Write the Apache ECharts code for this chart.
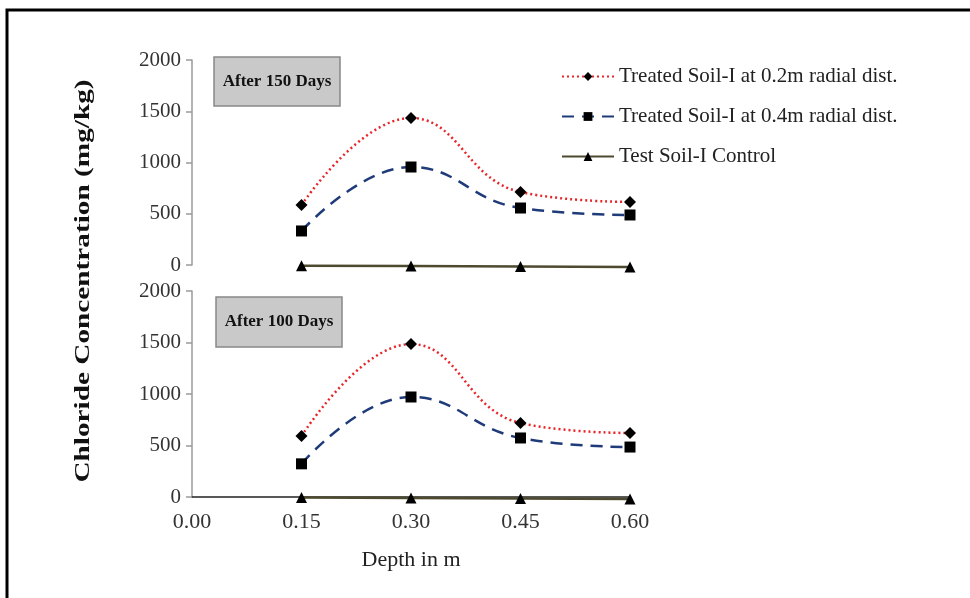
<!DOCTYPE html>
<html>
<head>
<meta charset="utf-8">
<script src="https://cdn.jsdelivr.net/npm/echarts@6/dist/echarts.min.js"></script>
<style>html,body{margin:0;padding:0;background:#fff}#c{width:970px;height:598px}</style>
</head>
<body>
<div id="c"></div>
<script>
var depths = [0.15, 0.30, 0.45, 0.60];
var xTicks = ['0.00', '0.15', '0.30', '0.45', '0.60'];
var yTicks = [0, 500, 1000, 1500, 2000];
var seriesNames = ['Treated Soil-I at 0.2m radial dist.', 'Treated Soil-I at 0.4m radial dist.', 'Test Soil-I Control'];
var panelTitles = ['After 150 Days', 'After 100 Days'];
// After 150 days (top panel)
var d150_02 = [585, 1434, 712, 615];
var d150_04 = [332, 956, 556, 488];
var d150_ctrl = [-8, -10, -15, -20];
// After 100 days (bottom panel)
var d100_02 = [592, 1485, 718, 621];
var d100_04 = [322, 971, 573, 485];
var d100_ctrl = [-5, -10, -15, -20];

function pairs(vals) { return depths.map(function (d, i) { return [d, vals[i]]; }); }

var serif = '"Liberation Serif", "Times New Roman", serif';
var styles = [
  { color: '#e8262a', type: [2, 3], width: 2.5, symbol: 'diamond', size: 12 },
  { color: '#1f3b7a', type: [12, 8], width: 2.5, symbol: 'rect', size: 11 },
  { color: '#4d4a30', type: 'solid', width: 2.5, symbol: 'triangle', size: 11 }
];

function mk(name, vals, k, gi) {
  var s = styles[k];
  return {
    name: name, type: 'line', xAxisIndex: gi, yAxisIndex: gi,
    data: pairs(vals), smooth: k === 2 ? false : 0.45, clip: false,
    symbol: s.symbol, symbolSize: s.size, showSymbol: true,
    lineStyle: { color: s.color, type: s.type, width: s.width },
    itemStyle: { color: '#000', borderWidth: 0 },
    z: 5 - k
  };
}

var yAxisCommon = {
  type: 'value', min: 0, max: 2000, interval: 500,
  axisLine: { show: true, lineStyle: { color: '#9a9a9a', width: 1.5 } },
  axisTick: { show: true, inside: false, length: 6, lineStyle: { color: '#9a9a9a', width: 1.5 } },
  axisLabel: { fontFamily: serif, fontSize: 21, color: '#333', margin: 11,
    formatter: function (v) { return yTicks.indexOf(v) >= 0 ? String(v) : ''; } },
  splitLine: { show: false }
};

var chart = echarts.init(document.getElementById('c'));
chart.setOption({
  backgroundColor: '#fff',
  animation: false,
  grid: [
    { left: 192, right: 340, top: 60, height: 205 },
    { left: 192, right: 340, top: 291, height: 206 }
  ],
  xAxis: [
    { gridIndex: 0, type: 'value', min: 0, max: 0.6, interval: 0.15, show: false },
    { gridIndex: 1, type: 'value', min: 0, max: 0.6, interval: 0.15,
      axisLine: { show: true, onZero: false, lineStyle: { color: '#222', width: 1.5 } },
      axisTick: { show: false },
      splitLine: { show: false },
      axisLabel: { fontFamily: serif, fontSize: 22, color: '#333', margin: 14,
        formatter: function (v) { var i = Math.round(v / 0.15); return xTicks[i] || ''; } },
      name: 'Depth in m', nameLocation: 'middle', nameGap: 52,
      nameTextStyle: { fontFamily: serif, fontSize: 22, color: '#222' }
    }
  ],
  yAxis: [
    Object.assign({ gridIndex: 0 }, yAxisCommon),
    Object.assign({ gridIndex: 1 }, yAxisCommon)
  ],
  legend: {
    orient: 'vertical', left: 556, top: 61, itemGap: 19,
    itemWidth: 52, itemHeight: 11,
    textStyle: { fontFamily: serif, fontSize: 21, color: '#222' },
    data: seriesNames
  },
  series: [
    mk(seriesNames[0], d150_02, 0, 0),
    mk(seriesNames[1], d150_04, 1, 0),
    mk(seriesNames[2], d150_ctrl, 2, 0),
    mk(seriesNames[0], d100_02, 0, 1),
    mk(seriesNames[1], d100_04, 1, 1),
    mk(seriesNames[2], d100_ctrl, 2, 1)
  ],
  graphic: [
    { type: 'polyline', shape: { points: [[7, 600], [7, 10], [975, 10]] },
      style: { stroke: '#000', lineWidth: 3, fill: null } },
    { type: 'rect', shape: { x: 214, y: 57, width: 126, height: 49 },
      style: { fill: '#c9c9c9', stroke: '#888', lineWidth: 1.5 } },
    { type: 'text', x: 277, y: 81.5,
      style: { text: panelTitles[0], font: 'bold 17px ' + serif, fill: '#111', align: 'center', verticalAlign: 'middle' } },
    { type: 'rect', shape: { x: 216, y: 297, width: 126, height: 50 },
      style: { fill: '#c9c9c9', stroke: '#888', lineWidth: 1.5 } },
    { type: 'text', x: 279, y: 322,
      style: { text: panelTitles[1], font: 'bold 17px ' + serif, fill: '#111', align: 'center', verticalAlign: 'middle' } },
    { type: 'text', x: 83, y: 281, rotation: Math.PI / 2, scaleX: 1.33,
      style: { text: 'Chloride Concentration (mg/kg)', font: 'bold 22px ' + serif, fill: '#111', align: 'center', verticalAlign: 'middle' } }
  ]
});
</script>
</body>
</html>
